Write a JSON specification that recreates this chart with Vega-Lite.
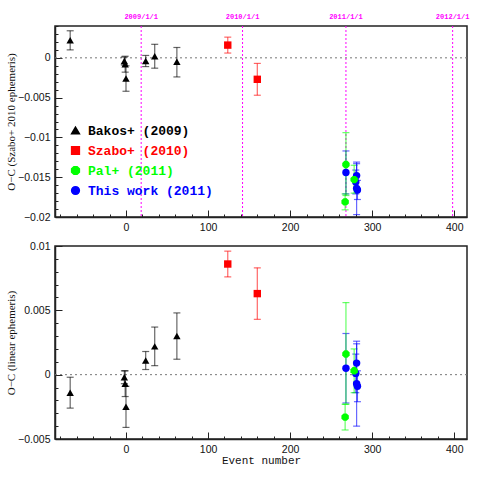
{
  "$schema": "https://vega.github.io/schema/vega-lite/v6.json",
  "padding": {"left": 4, "top": 12, "right": 5, "bottom": 5},
  "spacing": 6,
  "config": {"view": {"stroke": "#222", "strokeWidth": 1.5}},
  "datasets": {
    "dates": [
      {"E": 18.5, "label": "2009/1/1"},
      {"E": 142, "label": "2010/1/1"},
      {"E": 268, "label": "2011/1/1"},
      {"E": 398, "label": "2012/1/1"}
    ],
    "zero": [{"y": 0}],
    "top": [
      {"s": "Bakos+ (2009)", "E": -68, "y": 0.0022, "lo": 0.0010, "hi": 0.0034},
      {"s": "Bakos+ (2009)", "E": -2, "y": -0.0004, "lo": -0.0009, "hi": 0.0001},
      {"s": "Bakos+ (2009)", "E": -1, "y": -0.0008, "lo": -0.0018, "hi": 0.0002},
      {"s": "Bakos+ (2009)", "E": 0, "y": -0.0026, "lo": -0.0042, "hi": -0.0010},
      {"s": "Bakos+ (2009)", "E": 24, "y": -0.0004, "lo": -0.0011, "hi": 0.0003},
      {"s": "Bakos+ (2009)", "E": 35, "y": 0.0002, "lo": -0.0013, "hi": 0.0017},
      {"s": "Bakos+ (2009)", "E": 62, "y": -0.0005, "lo": -0.0024, "hi": 0.0013},
      {"s": "Szabo+ (2010)", "E": 124, "y": 0.0016, "lo": 0.0006, "hi": 0.0026},
      {"s": "Szabo+ (2010)", "E": 160, "y": -0.0027, "lo": -0.0047, "hi": -0.0007},
      {"s": "This work (2011)", "E": 268, "y": -0.0144, "lo": -0.0171, "hi": -0.0117},
      {"s": "This work (2011)", "E": 281, "y": -0.0148, "lo": -0.0163, "hi": -0.0133},
      {"s": "This work (2011)", "E": 280, "y": -0.0156, "lo": -0.0171, "hi": -0.0141},
      {"s": "This work (2011)", "E": 281, "y": -0.0164, "lo": -0.0197, "hi": -0.0131},
      {"s": "This work (2011)", "E": 282, "y": -0.0166, "lo": -0.0178, "hi": -0.0154},
      {"s": "Pal+ (2011)", "E": 268, "y": -0.0134, "lo": -0.0173, "hi": -0.0094},
      {"s": "Pal+ (2011)", "E": 267, "y": -0.0181, "lo": -0.0191, "hi": -0.0171},
      {"s": "Pal+ (2011)", "E": 278, "y": -0.0153, "lo": -0.0170, "hi": -0.0135}
    ],
    "bot": [
      {"s": "Bakos+ (2009)", "E": -68, "y": -0.0014, "lo": -0.0026, "hi": -0.0002},
      {"s": "Bakos+ (2009)", "E": -2, "y": -0.0002, "lo": -0.0007, "hi": 0.0003},
      {"s": "Bakos+ (2009)", "E": -1, "y": -0.0007, "lo": -0.0017, "hi": 0.0003},
      {"s": "Bakos+ (2009)", "E": 0, "y": -0.0025, "lo": -0.0041, "hi": -0.0009},
      {"s": "Bakos+ (2009)", "E": 24, "y": 0.0011, "lo": 0.0004, "hi": 0.0018},
      {"s": "Bakos+ (2009)", "E": 35, "y": 0.0022, "lo": 0.0007, "hi": 0.0037},
      {"s": "Bakos+ (2009)", "E": 62, "y": 0.0030, "lo": 0.0012, "hi": 0.0048},
      {"s": "Szabo+ (2010)", "E": 124, "y": 0.0086, "lo": 0.0076, "hi": 0.0096},
      {"s": "Szabo+ (2010)", "E": 160, "y": 0.0063, "lo": 0.0043, "hi": 0.0083},
      {"s": "This work (2011)", "E": 268, "y": 0.0005, "lo": -0.0022, "hi": 0.0032},
      {"s": "This work (2011)", "E": 281, "y": 0.0009, "lo": -0.0006, "hi": 0.0024},
      {"s": "This work (2011)", "E": 280, "y": 0.0001, "lo": -0.0014, "hi": 0.0016},
      {"s": "This work (2011)", "E": 281, "y": -0.0007, "lo": -0.0040, "hi": 0.0026},
      {"s": "This work (2011)", "E": 282, "y": -0.0009, "lo": -0.0021, "hi": 0.0003},
      {"s": "Pal+ (2011)", "E": 268, "y": 0.0016, "lo": -0.0023, "hi": 0.0056},
      {"s": "Pal+ (2011)", "E": 267, "y": -0.0033, "lo": -0.0043, "hi": -0.0023},
      {"s": "Pal+ (2011)", "E": 278, "y": 0.0003, "lo": -0.0014, "hi": 0.0020}
    ]
  },
  "vconcat": [
    {
      "width": 412,
      "height": 191,
      "layer": [
        {
          "data": {"name": "dates"},
          "mark": {"type": "rule", "color": "#ff00ff", "strokeDash": [2, 2], "strokeWidth": 1},
          "encoding": {
            "x": {"field": "E", "type": "quantitative", "scale": {"domain": [-86.5, 415.5], "nice": false, "zero": false},
              "axis": {"title": null, "values": [-80,-60,-40,-20,0,20,40,60,80,100,120,140,160,180,200,220,240,260,280,300,320,340,360,380,400], "labelExpr": "datum.value % 100 === 0 ? datum.label : ''", "tickSize": {"condition": {"test": "datum.value % 100 === 0", "value": -7}, "value": -3}, "tickColor": "#222", "tickWidth": 1, "domainColor": "#222", "domainWidth": 1.5, "grid": false, "labelFont": "Liberation Sans", "labelFontSize": 10.5, "labelColor": "#111", "labelPadding": 12}}
          }
        },
        {
          "data": {"name": "dates"},
          "mark": {"type": "text", "color": "#ff00ff", "font": "Liberation Mono", "fontWeight": "bold", "fontSize": 7, "baseline": "middle"},
          "encoding": {
            "x": {"field": "E", "type": "quantitative", "scale": {"domain": [-86.5, 415.5], "nice": false, "zero": false},
              "axis": {"title": null, "values": [-80,-60,-40,-20,0,20,40,60,80,100,120,140,160,180,200,220,240,260,280,300,320,340,360,380,400], "labelExpr": "datum.value % 100 === 0 ? datum.label : ''", "tickSize": {"condition": {"test": "datum.value % 100 === 0", "value": -7}, "value": -3}, "tickColor": "#222", "tickWidth": 1, "domainColor": "#222", "domainWidth": 1.5, "grid": false, "labelFont": "Liberation Sans", "labelFontSize": 10.5, "labelColor": "#111", "labelPadding": 12}},
            "y": {"datum": 0.0051, "type": "quantitative", "scale": {"domain": [-0.02, 0.004], "nice": false, "zero": false},
              "axis": {"title": "O−C (Szabo+ 2010 ephemeris)", "values": [-0.02,-0.019,-0.018,-0.017,-0.016,-0.015,-0.014,-0.013,-0.012,-0.011,-0.01,-0.009,-0.008,-0.007,-0.006,-0.005,-0.004,-0.003,-0.002,-0.001,0,0.001,0.002,0.003,0.004], "labelExpr": "round(datum.value*1000) % 5 === 0 ? format(datum.value, '~g') : ''", "tickSize": {"condition": {"test": "round(datum.value*1000) % 5 === 0", "value": -7}, "value": -3}, "tickColor": "#222", "tickWidth": 1, "domainColor": "#222", "domainWidth": 1.5, "grid": false, "labelFont": "Liberation Sans", "labelFontSize": 10.5, "labelColor": "#111", "labelPadding": 12, "titleFont": "Liberation Serif", "titleFontSize": 11, "titleFontWeight": "normal", "titleColor": "#111", "titlePadding": 1}},
            "text": {"field": "label"}
          }
        },
        {
          "data": {"name": "zero"},
          "mark": {"type": "rule", "color": "#777", "strokeDash": [2, 3], "strokeWidth": 1},
          "encoding": {
            "y": {"field": "y", "type": "quantitative", "scale": {"domain": [-0.02, 0.004], "nice": false, "zero": false},
              "axis": {"title": "O−C (Szabo+ 2010 ephemeris)", "values": [-0.02,-0.019,-0.018,-0.017,-0.016,-0.015,-0.014,-0.013,-0.012,-0.011,-0.01,-0.009,-0.008,-0.007,-0.006,-0.005,-0.004,-0.003,-0.002,-0.001,0,0.001,0.002,0.003,0.004], "labelExpr": "round(datum.value*1000) % 5 === 0 ? format(datum.value, '~g') : ''", "tickSize": {"condition": {"test": "round(datum.value*1000) % 5 === 0", "value": -7}, "value": -3}, "tickColor": "#222", "tickWidth": 1, "domainColor": "#222", "domainWidth": 1.5, "grid": false, "labelFont": "Liberation Sans", "labelFontSize": 10.5, "labelColor": "#111", "labelPadding": 12, "titleFont": "Liberation Serif", "titleFontSize": 11, "titleFontWeight": "normal", "titleColor": "#111", "titlePadding": 1}}
          }
        },
        {
          "data": {"name": "top"},
          "mark": {"type": "errorbar", "ticks": true, "size": 7, "thickness": 1.2, "opacity": 0.6},
          "encoding": {
            "x": {"field": "E", "type": "quantitative", "scale": {"domain": [-86.5, 415.5], "nice": false, "zero": false},
              "axis": {"title": null, "values": [-80,-60,-40,-20,0,20,40,60,80,100,120,140,160,180,200,220,240,260,280,300,320,340,360,380,400], "labelExpr": "datum.value % 100 === 0 ? datum.label : ''", "tickSize": {"condition": {"test": "datum.value % 100 === 0", "value": -7}, "value": -3}, "tickColor": "#222", "tickWidth": 1, "domainColor": "#222", "domainWidth": 1.5, "grid": false, "labelFont": "Liberation Sans", "labelFontSize": 10.5, "labelColor": "#111", "labelPadding": 12}},
            "y": {"field": "lo", "type": "quantitative", "scale": {"domain": [-0.02, 0.004], "nice": false, "zero": false},
              "axis": {"title": "O−C (Szabo+ 2010 ephemeris)", "values": [-0.02,-0.019,-0.018,-0.017,-0.016,-0.015,-0.014,-0.013,-0.012,-0.011,-0.01,-0.009,-0.008,-0.007,-0.006,-0.005,-0.004,-0.003,-0.002,-0.001,0,0.001,0.002,0.003,0.004], "labelExpr": "round(datum.value*1000) % 5 === 0 ? format(datum.value, '~g') : ''", "tickSize": {"condition": {"test": "round(datum.value*1000) % 5 === 0", "value": -7}, "value": -3}, "tickColor": "#222", "tickWidth": 1, "domainColor": "#222", "domainWidth": 1.5, "grid": false, "labelFont": "Liberation Sans", "labelFontSize": 10.5, "labelColor": "#111", "labelPadding": 12, "titleFont": "Liberation Serif", "titleFontSize": 11, "titleFontWeight": "normal", "titleColor": "#111", "titlePadding": 1}},
            "y2": {"field": "hi"},
            "color": {"field": "s", "type": "nominal", "scale": {"domain": ["Bakos+ (2009)", "Szabo+ (2010)", "Pal+ (2011)", "This work (2011)"], "range": ["#000000", "#ff0000", "#00ff00", "#0000ff"]},
              "legend": {"orient": "none", "legendX": 14, "legendY": 98, "title": null, "labelFont": "Liberation Mono", "labelFontSize": 13, "labelFontWeight": "bold", "labelOffset": 6, "symbolSize": 60, "symbolOpacity": 1, "rowPadding": 5, "labelColor": {"expr": "scale('color', datum.value)"}}}
          }
        },
        {
          "data": {"name": "top"},
          "mark": {"type": "point", "filled": true, "size": 55, "opacity": 1},
          "encoding": {
            "x": {"field": "E", "type": "quantitative", "scale": {"domain": [-86.5, 415.5], "nice": false, "zero": false},
              "axis": {"title": null, "values": [-80,-60,-40,-20,0,20,40,60,80,100,120,140,160,180,200,220,240,260,280,300,320,340,360,380,400], "labelExpr": "datum.value % 100 === 0 ? datum.label : ''", "tickSize": {"condition": {"test": "datum.value % 100 === 0", "value": -7}, "value": -3}, "tickColor": "#222", "tickWidth": 1, "domainColor": "#222", "domainWidth": 1.5, "grid": false, "labelFont": "Liberation Sans", "labelFontSize": 10.5, "labelColor": "#111", "labelPadding": 12}},
            "y": {"field": "y", "type": "quantitative", "scale": {"domain": [-0.02, 0.004], "nice": false, "zero": false},
              "axis": {"title": "O−C (Szabo+ 2010 ephemeris)", "values": [-0.02,-0.019,-0.018,-0.017,-0.016,-0.015,-0.014,-0.013,-0.012,-0.011,-0.01,-0.009,-0.008,-0.007,-0.006,-0.005,-0.004,-0.003,-0.002,-0.001,0,0.001,0.002,0.003,0.004], "labelExpr": "round(datum.value*1000) % 5 === 0 ? format(datum.value, '~g') : ''", "tickSize": {"condition": {"test": "round(datum.value*1000) % 5 === 0", "value": -7}, "value": -3}, "tickColor": "#222", "tickWidth": 1, "domainColor": "#222", "domainWidth": 1.5, "grid": false, "labelFont": "Liberation Sans", "labelFontSize": 10.5, "labelColor": "#111", "labelPadding": 12, "titleFont": "Liberation Serif", "titleFontSize": 11, "titleFontWeight": "normal", "titleColor": "#111", "titlePadding": 1}},
            "color": {"field": "s", "type": "nominal", "scale": {"domain": ["Bakos+ (2009)", "Szabo+ (2010)", "Pal+ (2011)", "This work (2011)"], "range": ["#000000", "#ff0000", "#00ff00", "#0000ff"]},
              "legend": {"orient": "none", "legendX": 14, "legendY": 98, "title": null, "labelFont": "Liberation Mono", "labelFontSize": 13, "labelFontWeight": "bold", "labelOffset": 6, "symbolSize": 60, "symbolOpacity": 1, "rowPadding": 5, "labelColor": {"expr": "scale('color', datum.value)"}}},
            "shape": {"field": "s", "type": "nominal", "scale": {"domain": ["Bakos+ (2009)", "Szabo+ (2010)", "Pal+ (2011)", "This work (2011)"], "range": ["triangle-up", "square", "M-0.41,-1L0.41,-1L1,-0.41L1,0.41L0.41,1L-0.41,1L-1,0.41L-1,-0.41Z", "circle"]},
              "legend": {"orient": "none", "legendX": 14, "legendY": 98, "title": null, "labelFont": "Liberation Mono", "labelFontSize": 13, "labelFontWeight": "bold", "labelOffset": 6, "symbolSize": 60, "symbolOpacity": 1, "rowPadding": 5, "labelColor": {"expr": "scale('color', datum.value)"}}}
          }
        }
      ]
    },
    {
      "width": 412,
      "height": 193,
      "layer": [
        {
          "data": {"name": "zero"},
          "mark": {"type": "rule", "color": "#777", "strokeDash": [2, 3], "strokeWidth": 1},
          "encoding": {
            "y": {"field": "y", "type": "quantitative", "scale": {"domain": [-0.005, 0.01], "nice": false, "zero": false},
              "axis": {"title": "O−C (linear ephemeris)", "values": [-0.005,-0.004,-0.003,-0.002,-0.001,0,0.001,0.002,0.003,0.004,0.005,0.006,0.007,0.008,0.009,0.01], "labelExpr": "round(datum.value*1000) % 5 === 0 ? format(datum.value, '~g') : ''", "tickSize": {"condition": {"test": "round(datum.value*1000) % 5 === 0", "value": -7}, "value": -3}, "tickColor": "#222", "tickWidth": 1, "domainColor": "#222", "domainWidth": 1.5, "grid": false, "labelFont": "Liberation Sans", "labelFontSize": 10.5, "labelColor": "#111", "labelPadding": 12, "titleFont": "Liberation Serif", "titleFontSize": 11, "titleFontWeight": "normal", "titleColor": "#111", "titlePadding": 1}}
          }
        },
        {
          "data": {"name": "bot"},
          "mark": {"type": "errorbar", "ticks": true, "size": 7, "thickness": 1.2, "opacity": 0.6},
          "encoding": {
            "x": {"field": "E", "type": "quantitative", "scale": {"domain": [-86.5, 415.5], "nice": false, "zero": false},
              "axis": {"title": "Event number", "values": [-80,-60,-40,-20,0,20,40,60,80,100,120,140,160,180,200,220,240,260,280,300,320,340,360,380,400], "labelExpr": "datum.value % 100 === 0 ? datum.label : ''", "tickSize": {"condition": {"test": "datum.value % 100 === 0", "value": -7}, "value": -3}, "tickColor": "#222", "tickWidth": 1, "domainColor": "#222", "domainWidth": 1.5, "grid": false, "labelFont": "Liberation Sans", "labelFontSize": 10.5, "labelColor": "#111", "labelPadding": 12, "titleFont": "Liberation Mono", "titleFontSize": 11, "titleFontWeight": "normal", "titleColor": "#111", "titlePadding": 0}},
            "y": {"field": "lo", "type": "quantitative", "scale": {"domain": [-0.005, 0.01], "nice": false, "zero": false},
              "axis": {"title": "O−C (linear ephemeris)", "values": [-0.005,-0.004,-0.003,-0.002,-0.001,0,0.001,0.002,0.003,0.004,0.005,0.006,0.007,0.008,0.009,0.01], "labelExpr": "round(datum.value*1000) % 5 === 0 ? format(datum.value, '~g') : ''", "tickSize": {"condition": {"test": "round(datum.value*1000) % 5 === 0", "value": -7}, "value": -3}, "tickColor": "#222", "tickWidth": 1, "domainColor": "#222", "domainWidth": 1.5, "grid": false, "labelFont": "Liberation Sans", "labelFontSize": 10.5, "labelColor": "#111", "labelPadding": 12, "titleFont": "Liberation Serif", "titleFontSize": 11, "titleFontWeight": "normal", "titleColor": "#111", "titlePadding": 1}},
            "y2": {"field": "hi"},
            "color": {"field": "s", "type": "nominal", "scale": {"domain": ["Bakos+ (2009)", "Szabo+ (2010)", "Pal+ (2011)", "This work (2011)"], "range": ["#000000", "#ff0000", "#00ff00", "#0000ff"]},
              "legend": {"orient": "none", "legendX": 14, "legendY": 98, "title": null, "labelFont": "Liberation Mono", "labelFontSize": 13, "labelFontWeight": "bold", "labelOffset": 6, "symbolSize": 60, "symbolOpacity": 1, "rowPadding": 5, "labelColor": {"expr": "scale('color', datum.value)"}}}
          }
        },
        {
          "data": {"name": "bot"},
          "mark": {"type": "point", "filled": true, "size": 55, "opacity": 1},
          "encoding": {
            "x": {"field": "E", "type": "quantitative", "scale": {"domain": [-86.5, 415.5], "nice": false, "zero": false},
              "axis": {"title": "Event number", "values": [-80,-60,-40,-20,0,20,40,60,80,100,120,140,160,180,200,220,240,260,280,300,320,340,360,380,400], "labelExpr": "datum.value % 100 === 0 ? datum.label : ''", "tickSize": {"condition": {"test": "datum.value % 100 === 0", "value": -7}, "value": -3}, "tickColor": "#222", "tickWidth": 1, "domainColor": "#222", "domainWidth": 1.5, "grid": false, "labelFont": "Liberation Sans", "labelFontSize": 10.5, "labelColor": "#111", "labelPadding": 12, "titleFont": "Liberation Mono", "titleFontSize": 11, "titleFontWeight": "normal", "titleColor": "#111", "titlePadding": 0}},
            "y": {"field": "y", "type": "quantitative", "scale": {"domain": [-0.005, 0.01], "nice": false, "zero": false},
              "axis": {"title": "O−C (linear ephemeris)", "values": [-0.005,-0.004,-0.003,-0.002,-0.001,0,0.001,0.002,0.003,0.004,0.005,0.006,0.007,0.008,0.009,0.01], "labelExpr": "round(datum.value*1000) % 5 === 0 ? format(datum.value, '~g') : ''", "tickSize": {"condition": {"test": "round(datum.value*1000) % 5 === 0", "value": -7}, "value": -3}, "tickColor": "#222", "tickWidth": 1, "domainColor": "#222", "domainWidth": 1.5, "grid": false, "labelFont": "Liberation Sans", "labelFontSize": 10.5, "labelColor": "#111", "labelPadding": 12, "titleFont": "Liberation Serif", "titleFontSize": 11, "titleFontWeight": "normal", "titleColor": "#111", "titlePadding": 1}},
            "color": {"field": "s", "type": "nominal", "scale": {"domain": ["Bakos+ (2009)", "Szabo+ (2010)", "Pal+ (2011)", "This work (2011)"], "range": ["#000000", "#ff0000", "#00ff00", "#0000ff"]},
              "legend": {"orient": "none", "legendX": 14, "legendY": 98, "title": null, "labelFont": "Liberation Mono", "labelFontSize": 13, "labelFontWeight": "bold", "labelOffset": 6, "symbolSize": 60, "symbolOpacity": 1, "rowPadding": 5, "labelColor": {"expr": "scale('color', datum.value)"}}},
            "shape": {"field": "s", "type": "nominal", "scale": {"domain": ["Bakos+ (2009)", "Szabo+ (2010)", "Pal+ (2011)", "This work (2011)"], "range": ["triangle-up", "square", "M-0.41,-1L0.41,-1L1,-0.41L1,0.41L0.41,1L-0.41,1L-1,0.41L-1,-0.41Z", "circle"]},
              "legend": {"orient": "none", "legendX": 14, "legendY": 98, "title": null, "labelFont": "Liberation Mono", "labelFontSize": 13, "labelFontWeight": "bold", "labelOffset": 6, "symbolSize": 60, "symbolOpacity": 1, "rowPadding": 5, "labelColor": {"expr": "scale('color', datum.value)"}}}
          }
        }
      ]
    }
  ]
}
